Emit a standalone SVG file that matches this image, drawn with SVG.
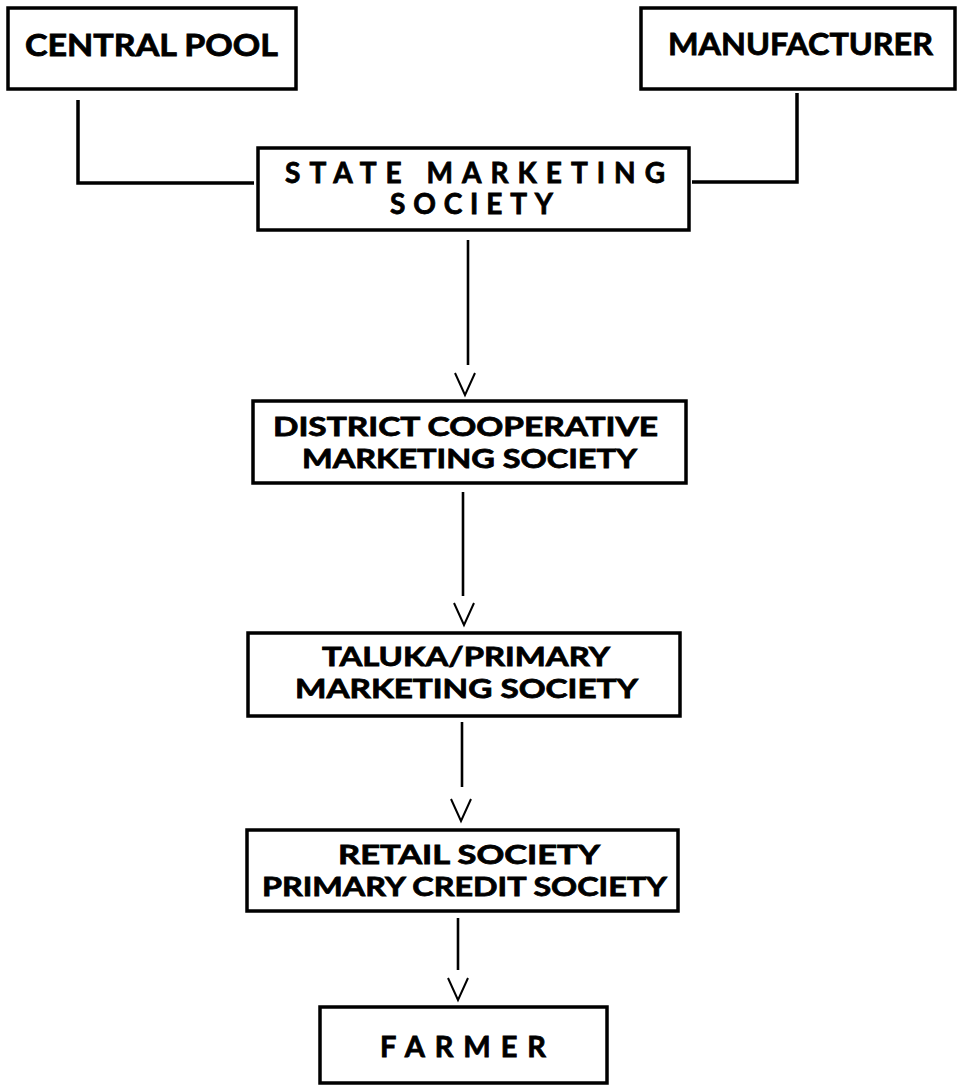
<svg xmlns="http://www.w3.org/2000/svg" xmlns:xlink="http://www.w3.org/1999/xlink" width="961" height="1091" viewBox="0 0 961 1091">
<style>
.box{fill:#fff;stroke:#000;stroke-width:3.5}
.lbl{font-family:Lato,"Open Sans","Liberation Sans",sans-serif;font-weight:bold;fill:#000;stroke:#000;stroke-width:0.8}
.con{fill:none;stroke:#000;stroke-width:3.5}
.vline{fill:none;stroke:#000;stroke-width:2.6}
.head{fill:none;stroke:#000;stroke-width:2}
</style>
<defs>
<path id="v" d="M-10,0 L0,22 L10,0"/>
</defs>
<rect width="961" height="1091" fill="#fff"/>
<g id="connectors">
<polyline class="con" points="78,100 78,183 254,183"/>
<polyline class="con" points="797,93 797,182 692,182"/>
<line class="vline" x1="468" y1="240" x2="468" y2="365"/>
<use class="head" xlink:href="#v" x="465" y="373"/>
<line class="vline" x1="463" y1="492" x2="463" y2="596"/>
<use class="head" xlink:href="#v" x="464" y="603"/>
<line class="vline" x1="462" y1="722" x2="462" y2="787"/>
<use class="head" xlink:href="#v" x="461" y="799"/>
<line class="vline" x1="458" y1="918" x2="458" y2="970"/>
<use class="head" xlink:href="#v" x="458" y="978"/>
</g>
<g id="central-pool">
<rect class="box" x="8" y="8" width="288" height="81"/>
<text class="lbl" x="25" y="56" font-size="31" textLength="253" lengthAdjust="spacingAndGlyphs">CENTRAL POOL</text>
</g>
<g id="manufacturer">
<rect class="box" x="641" y="8" width="314" height="81"/>
<text class="lbl" x="668" y="55" font-size="31" textLength="265" lengthAdjust="spacingAndGlyphs">MANUFACTURER</text>
</g>
<g id="state-marketing-society">
<rect class="box" x="258" y="148" width="431" height="82"/>
<text class="lbl" x="285" y="183" font-size="28" textLength="380" lengthAdjust="spacing">STATE MARKETING</text>
<text class="lbl" x="390" y="214" font-size="28" textLength="163" lengthAdjust="spacing">SOCIETY</text>
</g>
<g id="district-cooperative-marketing-society">
<rect class="box" x="253" y="401" width="433" height="82"/>
<text class="lbl" x="273" y="436" font-size="27" textLength="385" lengthAdjust="spacingAndGlyphs">DISTRICT COOPERATIVE</text>
<text class="lbl" x="302" y="468" font-size="27" textLength="335" lengthAdjust="spacingAndGlyphs">MARKETING SOCIETY</text>
</g>
<g id="taluka-primary-marketing-society">
<rect class="box" x="248" y="633" width="432" height="83"/>
<text class="lbl" x="322" y="666" font-size="27" textLength="288" lengthAdjust="spacingAndGlyphs">TALUKA/PRIMARY</text>
<text class="lbl" x="295" y="698" font-size="27" textLength="343" lengthAdjust="spacingAndGlyphs">MARKETING SOCIETY</text>
</g>
<g id="retail-primary-credit-society">
<rect class="box" x="247" y="830" width="431" height="81"/>
<text class="lbl" x="338" y="864" font-size="27" textLength="262" lengthAdjust="spacingAndGlyphs">RETAIL SOCIETY</text>
<text class="lbl" x="262" y="896" font-size="27" textLength="405" lengthAdjust="spacingAndGlyphs">PRIMARY CREDIT SOCIETY</text>
</g>
<g id="farmer">
<rect class="box" x="320" y="1007" width="287" height="76"/>
<text class="lbl" x="380" y="1057" font-size="29" textLength="166" lengthAdjust="spacing">FARMER</text>
</g>
</svg>
